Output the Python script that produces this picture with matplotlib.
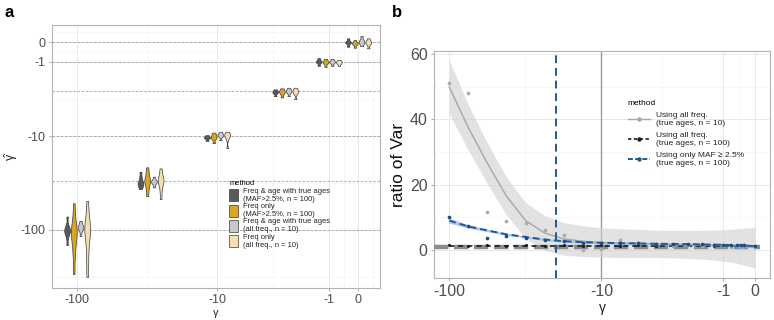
import numpy as np
import matplotlib
matplotlib.use("Agg")
import matplotlib.pyplot as plt
from matplotlib import mlab
from matplotlib.patches import Patch
from matplotlib.lines import Line2D

plt.rcParams['font.family'] = ['Liberation Sans', 'DejaVu Sans']

# ---------------- Panel a data ----------------
gamma_true = [-100, -30, -10, -3, -1, 0]
methods_a = ["Freq & age with true ages\n(MAF>2.5%, n = 100)",
             "Freq only\n(MAF>2.5%, n = 100)",
             "Freq & age with true ages\n(all freq., n = 10)",
             "Freq only\n(all freq., n = 10)"]
colors_a = ['#5A5A5A', '#DAA520', '#C8C8C8', '#F5DEB3']

# estimated gamma-hat values per true gamma (read from violin extents)
est_fa_maf = [
    [-72, -88, -95, -99, -102, -105, -110, -120, -145],
    [-24, -27, -29.5, -31, -32, -33, -34.5, -36.7],
    [-9.7, -10.0, -10.2, -10.4, -10.6, -11.2],
    [-2.88, -3.0, -3.08, -3.15, -3.25, -3.5],
    [-0.81, -0.92, -0.98, -1.02, -1.08, -1.23],
    [0.18, 0.06, 0.0, -0.03, -0.08, -0.23],
]
est_f_maf = [
    [-52, -70, -85, -95, -102, -110, -120, -135, -160, -200, -295],
    [-21.5, -24.5, -27, -29, -30, -31.5, -34, -38, -43.6],
    [-9.1, -9.6, -10.0, -10.3, -10.7, -11.8],
    [-2.79, -2.95, -3.05, -3.15, -3.3, -3.62],
    [-0.85, -0.95, -1.0, -1.05, -1.12, -1.29],
    [0.1, 0.0, -0.05, -0.08, -0.14, -0.28],
]
est_fa_all = [
    [-80, -86, -90, -93, -95, -98, -104, -116],
    [-27.1, -29, -30, -30.6, -31.3, -32.5, -35.2],
    [-8.9, -9.3, -9.6, -9.8, -10.1, -11.0],
    [-2.74, -2.9, -3.0, -3.08, -3.2, -3.5],
    [-0.85, -0.94, -0.99, -1.03, -1.09, -1.23],
    [0.29, 0.12, 0.04, -0.02, -0.08, -0.2],
]
est_f_all = [
    [-49, -65, -80, -90, -96, -103, -115, -135, -170, -230, -317],
    [-22.1, -25, -27.5, -29, -30, -31.5, -34, -39, -46.9],
    [-8.9, -9.3, -9.6, -9.8, -10.1, -10.8, -13.4],
    [-2.74, -2.92, -3.02, -3.12, -3.3, -3.8],
    [-0.9, -0.97, -1.02, -1.06, -1.12, -1.23],
    [0.18, 0.06, 0.0, -0.05, -0.12, -0.31],
]
est_all = [est_fa_maf, est_f_maf, est_fa_all, est_f_all]

ticks_a = [-100, -10, -1, 0]
tick_labels_a = ['-100', '-10', '-1', '0']
minor_ax = [-31.7, -3.8, -0.485, 0.485]
minor_ay = [-317, -31.7, -3.8, -0.485, 0.485]

# ---------------- Panel b data ----------------
gamma_grid = [-100, -75, -56.2, -42.2, -31.6, -23.7, -17.8, -13.3, -10, -7.5, -5.62,
              -4.22, -3.16, -2.37, -1.78, -1.33, -1, -0.75, -0.56, -0.42, -0.32, 0]
gray_pts = [51, 48, 11.5, 8.9, 8.4, 6.1, 4.6, 0.0, 0.2, 3.1, 2.1,
            1.8, 1.3, 1.6, 1.1, 1.4, 1.2, 1.0, 1.3, 0.9, 1.1, 1.0]
gray_fit = [50.0, 37.5, 26.5, 16.5, 9.0, 5.2, 3.4, 2.7, 2.3, 2.1, 2.0,
            1.9, 1.8, 1.7, 1.6, 1.5, 1.4, 1.3, 1.2, 1.1, 1.0, 0.7]
gray_lo = [41.8, 30.5, 20.3, 10.7, 3.5, -0.1, -1.6, -2.0, -2.2, -2.3, -2.3,
           -2.3, -2.4, -2.6, -2.8, -3.1, -3.4, -3.7, -4.1, -4.4, -4.7, -5.4]
gray_hi = [58.2, 44.5, 32.7, 22.3, 14.5, 10.5, 8.4, 7.4, 6.8, 6.5, 6.3,
           6.1, 6.0, 6.0, 6.0, 6.1, 6.2, 6.3, 6.5, 6.6, 6.7, 6.8]
black_pts = [1.4, 1.3, 1.4, 1.3, 1.4, 1.3, 1.4, 1.3, 1.4, 1.3, 1.4,
             1.3, 1.3, 1.4, 1.3, 1.3, 1.4, 1.3, 1.3, 1.3, 1.3, 1.3]
black_fit = [1.35, 1.35, 1.35, 1.35, 1.35, 1.35, 1.35, 1.35, 1.35, 1.35, 1.35,
             1.35, 1.35, 1.35, 1.35, 1.35, 1.35, 1.35, 1.35, 1.35, 1.35, 1.35]
blue_pts = [10.2, 7.4, 3.6, 4.3, 3.8, 3.0, 2.6, 2.2, 2.1, 2.0, 2.1,
            1.8, 1.9, 1.7, 1.8, 1.6, 1.6, 1.5, 1.5, 1.4, 1.4, 1.2]
blue_fit = [9.0, 7.2, 6.0, 4.8, 4.0, 3.2, 2.7, 2.4, 2.2, 2.1, 2.0,
            1.9, 1.85, 1.8, 1.7, 1.65, 1.6, 1.5, 1.45, 1.4, 1.35, 1.2]
blue_lo = [8.2, 6.7, 5.6, 4.45, 3.7, 2.9, 2.4, 2.1, 1.9, 1.8, 1.7,
           1.6, 1.55, 1.5, 1.4, 1.35, 1.3, 1.2, 1.15, 1.1, 1.05, 0.85]
blue_hi = [9.8, 7.7, 6.4, 5.15, 4.3, 3.5, 3.0, 2.7, 2.5, 2.4, 2.3,
           2.2, 2.15, 2.1, 2.0, 1.95, 1.9, 1.8, 1.75, 1.7, 1.65, 1.55]
ref_ratio = 1
vline_gray = -10
vline_blue = -20
labels_b = ["Using all freq.\n(true ages, n = 10)",
            "Using all freq.\n(true ages, n = 100)",
            "Using only MAF \u2265 2.5%\n(true ages, n = 100)"]
ticks_bx = [-100, -10, -1, 0]
ticks_by = [0, 20, 40, 60]
minor_bx = [-31.7, -3.8, -0.485]
minor_by = [10, 30, 50]

# ---------------- Figure ----------------
fig = plt.figure(figsize=(7.74, 3.2), dpi=100)
border = '#B3B3B3'
gridc = '#E5E5E5'
tickc = '#4D4D4D'

# ---- panel a ----
ax = fig.add_axes([52/774, 32/320, 328/774, 263/320])
ax.set_xscale('asinh', linear_width=2)
ax.set_yscale('asinh', linear_width=2)

ax.set_xticks(ticks_a)
ax.set_xticklabels(tick_labels_a)
ax.set_yticks(ticks_a)
ax.set_yticklabels(tick_labels_a)
ax.set_xticks(minor_ax, minor=True)
ax.set_yticks(minor_ay, minor=True)
ax.xaxis.set_minor_formatter(matplotlib.ticker.NullFormatter())
ax.yaxis.set_minor_formatter(matplotlib.ticker.NullFormatter())
ax.set_xlim(-151, 0.73)
ax.set_ylim(-415, 0.86)
xtr = ax.xaxis.get_transform()
ytr = ax.yaxis.get_transform()
xinv = xtr.inverted()
yinv = ytr.inverted()

ax.grid(True, which='major', color=gridc, lw=0.6, zorder=0)
ax.grid(True, which='minor', color='#F2F2F2', lw=0.4, zorder=0)
ax.set_axisbelow(True)
ax.tick_params(which='minor', length=0)
ax.tick_params(which='major', length=2.5, color=border, labelcolor=tickc, labelsize=9, pad=2)
for s in ax.spines.values():
    s.set_color(border)
    s.set_linewidth(0.8)

for g in gamma_true:
    ax.axhline(g, color='#A0A0A0', ls=(0, (3, 2)), lw=0.6, zorder=1)

spacing = 0.22
half_w = 0.095
for j, est in enumerate(est_all):
    for i, g in enumerate(gamma_true):
        uc = float(np.ravel(xtr.transform(np.array([g], float)))[0]) + (j - 1.5) * spacing
        uy = np.ravel(ytr.transform(np.array(est[i], float)))
        kde = mlab.GaussianKDE(uy, bw_method=0.35)
        yy = np.linspace(uy.min(), uy.max(), 150)
        d = kde.evaluate(yy)
        d = d / d.max() * half_w
        xl = np.ravel(xinv.transform(uc - d))
        xr = np.ravel(xinv.transform(uc + d))
        yd = np.ravel(yinv.transform(yy))
        ax.fill_betweenx(yd, xl, xr, facecolor=colors_a[j], edgecolor='#3A3A3A',
                         lw=0.5, zorder=3)
ax.set_xlim(-151, 0.73)
ax.set_ylim(-415, 0.86)

ax.set_xlabel('\u03b3', fontsize=8, color='#222222', labelpad=1)
ax.set_ylabel('\u03b3\u0302', fontsize=9, color='#222222', labelpad=3)

handles_a = [Patch(facecolor=c, edgecolor='#3A3A3A', lw=0.5) for c in colors_a]
leg = ax.legend(handles_a, methods_a, title='method', loc='upper left',
                bbox_to_anchor=(0.54, 0.41), frameon=False, fontsize=5.4,
                title_fontsize=5.4, handlelength=1.25, handleheight=2.1,
                labelspacing=0.05, handletextpad=0.6, borderpad=0, borderaxespad=0)
leg._legend_box.align = 'left'
for t in leg.get_texts():
    t.set_color('#222222')

# ---- panel b ----
bx = fig.add_axes([434/774, 42/320, 336/774, 227/320])
bx.set_xscale('asinh', linear_width=2)
bx.set_xticks(ticks_bx)
bx.set_xticklabels(['-100', '-10', '-1', '0'])
bx.set_yticks(ticks_by)
bx.set_xticks(minor_bx, minor=True)
bx.set_yticks(minor_by, minor=True)
bx.xaxis.set_minor_formatter(matplotlib.ticker.NullFormatter())
bx.yaxis.set_minor_formatter(matplotlib.ticker.NullFormatter())
bx.grid(True, which='major', color=gridc, lw=0.6, zorder=0)
bx.grid(True, which='minor', color='#F2F2F2', lw=0.4, zorder=0)
bx.set_axisbelow(True)
bx.tick_params(which='minor', length=0)
bx.tick_params(which='major', length=2.5, color=border, labelcolor=tickc, labelsize=11.5, pad=2)
for s in bx.spines.values():
    s.set_color(border)
    s.set_linewidth(0.8)

bx.axvline(vline_gray, color='#9A9A9A', lw=1.0, zorder=2)
bx.fill_between(gamma_grid, gray_lo, gray_hi, color='#D0D0D0', alpha=0.6, lw=0, zorder=2)
bx.axhline(ref_ratio, xmax=0.97, color='#8C8C8C', lw=3.2, ls=(0, (3.2, 1.3)), zorder=3)
bx.plot(gamma_grid, gray_fit, color='#A6A6A6', lw=1.0, zorder=4)
bx.plot(gamma_grid, black_fit, color='#1A1A1A', lw=1.2, ls=(0, (3, 2.5)), zorder=4)
bx.scatter(gamma_grid, black_pts, s=5, color='#1A1A1A', zorder=5, lw=0)
bx.fill_between(gamma_grid, blue_lo, blue_hi, color='#8DB6E0', alpha=0.7, lw=0, zorder=5)
bx.plot(gamma_grid, blue_fit, color='#1F5A99', lw=1.4, ls=(0, (3.5, 2)), zorder=6)
bx.scatter(gamma_grid, gray_pts, s=7, color='#AAAAAA', zorder=6, lw=0)
bx.scatter(gamma_grid, blue_pts, s=7, color='#174D8A', zorder=7, lw=0)
bx.axvline(vline_blue, color='#1F5A99', lw=1.4, ls=(0, (4, 2.5)), zorder=8)
bx.set_xlim(-125.7, 0.455)
bx.set_ylim(-8.58, 60.95)

bx.set_xlabel('\u03b3', fontsize=10, color='#222222', labelpad=1)
bx.set_ylabel('ratio of Var', fontsize=12.5, color='#111111', labelpad=3)

handles_b = [Line2D([], [], color='#A6A6A6', lw=1.0, marker='o', markersize=2.2),
             Line2D([], [], color='#1A1A1A', lw=1.2, ls=(0, (2, 1.5)), marker='o', markersize=2.2),
             Line2D([], [], color='#1F5A99', lw=1.4, ls=(0, (2.5, 1.2)), marker='o', markersize=2.2)]
legb = bx.legend(handles_b, labels_b, title='method', loc='upper left',
                 bbox_to_anchor=(0.577, 0.785), frameon=False, fontsize=6.0,
                 title_fontsize=6.0, handlelength=2.6, labelspacing=0.6,
                 handletextpad=0.8, borderpad=0, borderaxespad=0)
legb._legend_box.align = 'left'
for t in legb.get_texts():
    t.set_color('#222222')

fig.text(0.006, 0.985, 'a', fontsize=12, fontweight='bold', va='top', ha='left')
fig.text(392/774, 0.985, 'b', fontsize=12, fontweight='bold', va='top', ha='left')

fig.savefig('out.png', dpi=100)
